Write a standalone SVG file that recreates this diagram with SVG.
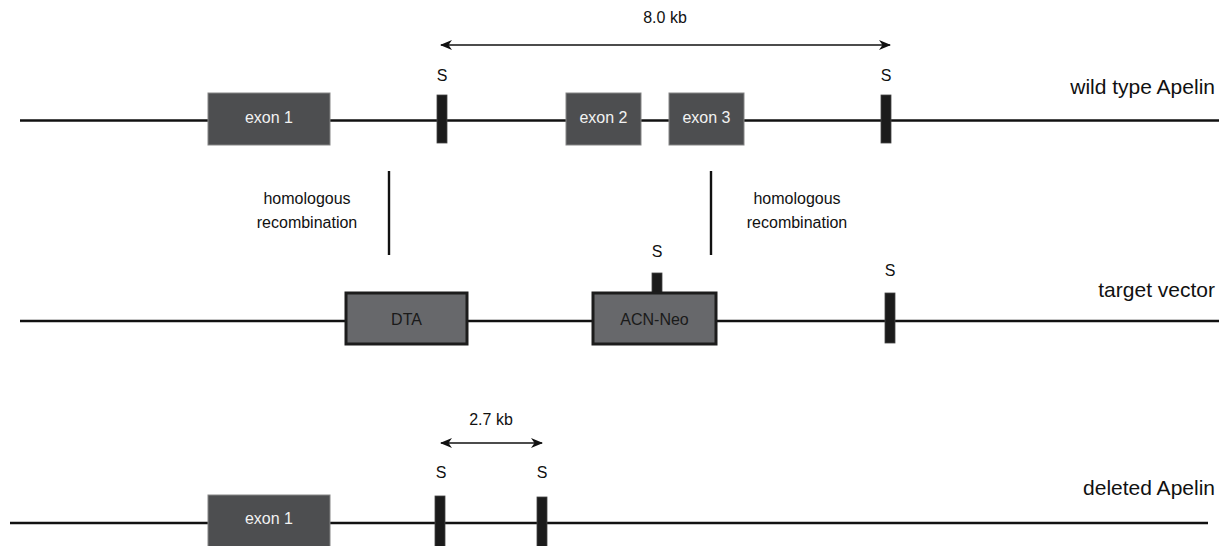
<svg xmlns="http://www.w3.org/2000/svg" width="1225" height="546" viewBox="0 0 1225 546">
<style>
text{font-family:"Liberation Sans",Arial,sans-serif;}
.t{font-size:16px;fill:#111;text-anchor:middle;}
.tw{font-size:16px;fill:#f2f2f2;text-anchor:middle;}
.lbl{font-size:21px;fill:#111;text-anchor:end;}
.dna{stroke:#111;stroke-width:2.6;fill:none;}
.exon{fill:#4d4e50;stroke:#858585;stroke-width:1;}
.vec{fill:#67686b;stroke:#1c1c1c;stroke-width:3;}
.site{fill:#1b1b1b;stroke:#444;stroke-width:0.8;}
.hr{stroke:#111;stroke-width:2.4;}
.dim{stroke:#111;stroke-width:1.5;fill:none;marker-start:url(#ah);marker-end:url(#ah);}
</style>
<defs>
<marker id="ah" viewBox="0 0 12 10" refX="11" refY="5" markerWidth="12" markerHeight="10" markerUnits="userSpaceOnUse" orient="auto-start-reverse">
<path d="M0,0 L12,5 L0,10 L3.5,5 z" fill="#111"/>
</marker>
</defs>
<rect width="1225" height="546" fill="#fff"/>

<g id="connectors">
<line class="dna" x1="20" y1="120.5" x2="1219" y2="120.5"/>
<line class="dna" x1="20" y1="321" x2="1219" y2="321"/>
<line class="dna" x1="10" y1="523" x2="1208" y2="523"/>
<line class="hr" x1="389" y1="171" x2="389" y2="255"/>
<line class="hr" x1="711" y1="171" x2="711" y2="255"/>
<line class="dim" x1="441" y1="45" x2="890" y2="45"/>
<line class="dim" x1="441" y1="443" x2="542" y2="443"/>
</g>

<g id="label-8kb"><text class="t" x="665" y="23">8.0 kb</text></g>
<g id="label-27kb"><text class="t" x="491" y="425">2.7 kb</text></g>

<g id="wt-exon1"><rect class="exon" x="208" y="93" width="122" height="52"/><text class="tw" x="269" y="123">exon 1</text></g>
<g id="wt-s1"><rect class="site" x="437" y="95" width="10" height="48"/><text class="t" x="442" y="81">S</text></g>
<g id="wt-exon2"><rect class="exon" x="566" y="93" width="75" height="52"/><text class="tw" x="603.5" y="123">exon 2</text></g>
<g id="wt-exon3"><rect class="exon" x="669" y="93" width="75" height="52"/><text class="tw" x="706.5" y="123">exon 3</text></g>
<g id="wt-s2"><rect class="site" x="881" y="95" width="10" height="48"/><text class="t" x="886" y="81">S</text></g>
<g id="wt-label"><text class="lbl" x="1215" y="94">wild type Apelin</text></g>

<g id="hr-left"><text class="t" x="307" y="204">homologous</text><text class="t" x="307" y="228">recombination</text></g>
<g id="hr-right"><text class="t" x="797" y="204">homologous</text><text class="t" x="797" y="228">recombination</text></g>

<g id="tv-dta"><rect class="vec" x="346" y="293" width="121" height="51"/><text class="t" x="406.5" y="325" style="fill:#1a1a1a">DTA</text></g>
<g id="tv-acn"><rect class="site" x="652" y="273" width="10" height="20"/><text class="t" x="657" y="257">S</text><rect class="vec" x="593" y="293" width="123" height="51"/><text class="t" x="654.5" y="325" style="fill:#1a1a1a">ACN-Neo</text></g>
<g id="tv-s"><rect class="site" x="885" y="293" width="10" height="50"/><text class="t" x="890" y="276">S</text></g>
<g id="tv-label"><text class="lbl" x="1215" y="297">target vector</text></g>

<g id="del-exon1"><rect class="exon" x="208" y="495" width="122" height="56"/><text class="tw" x="269" y="524">exon 1</text></g>
<g id="del-s1"><rect class="site" x="435" y="496" width="10" height="55"/><text class="t" x="441" y="478">S</text></g>
<g id="del-s2"><rect class="site" x="537" y="497" width="10" height="54"/><text class="t" x="542" y="478">S</text></g>
<g id="del-label"><text class="lbl" x="1215" y="495">deleted Apelin</text></g>
</svg>
